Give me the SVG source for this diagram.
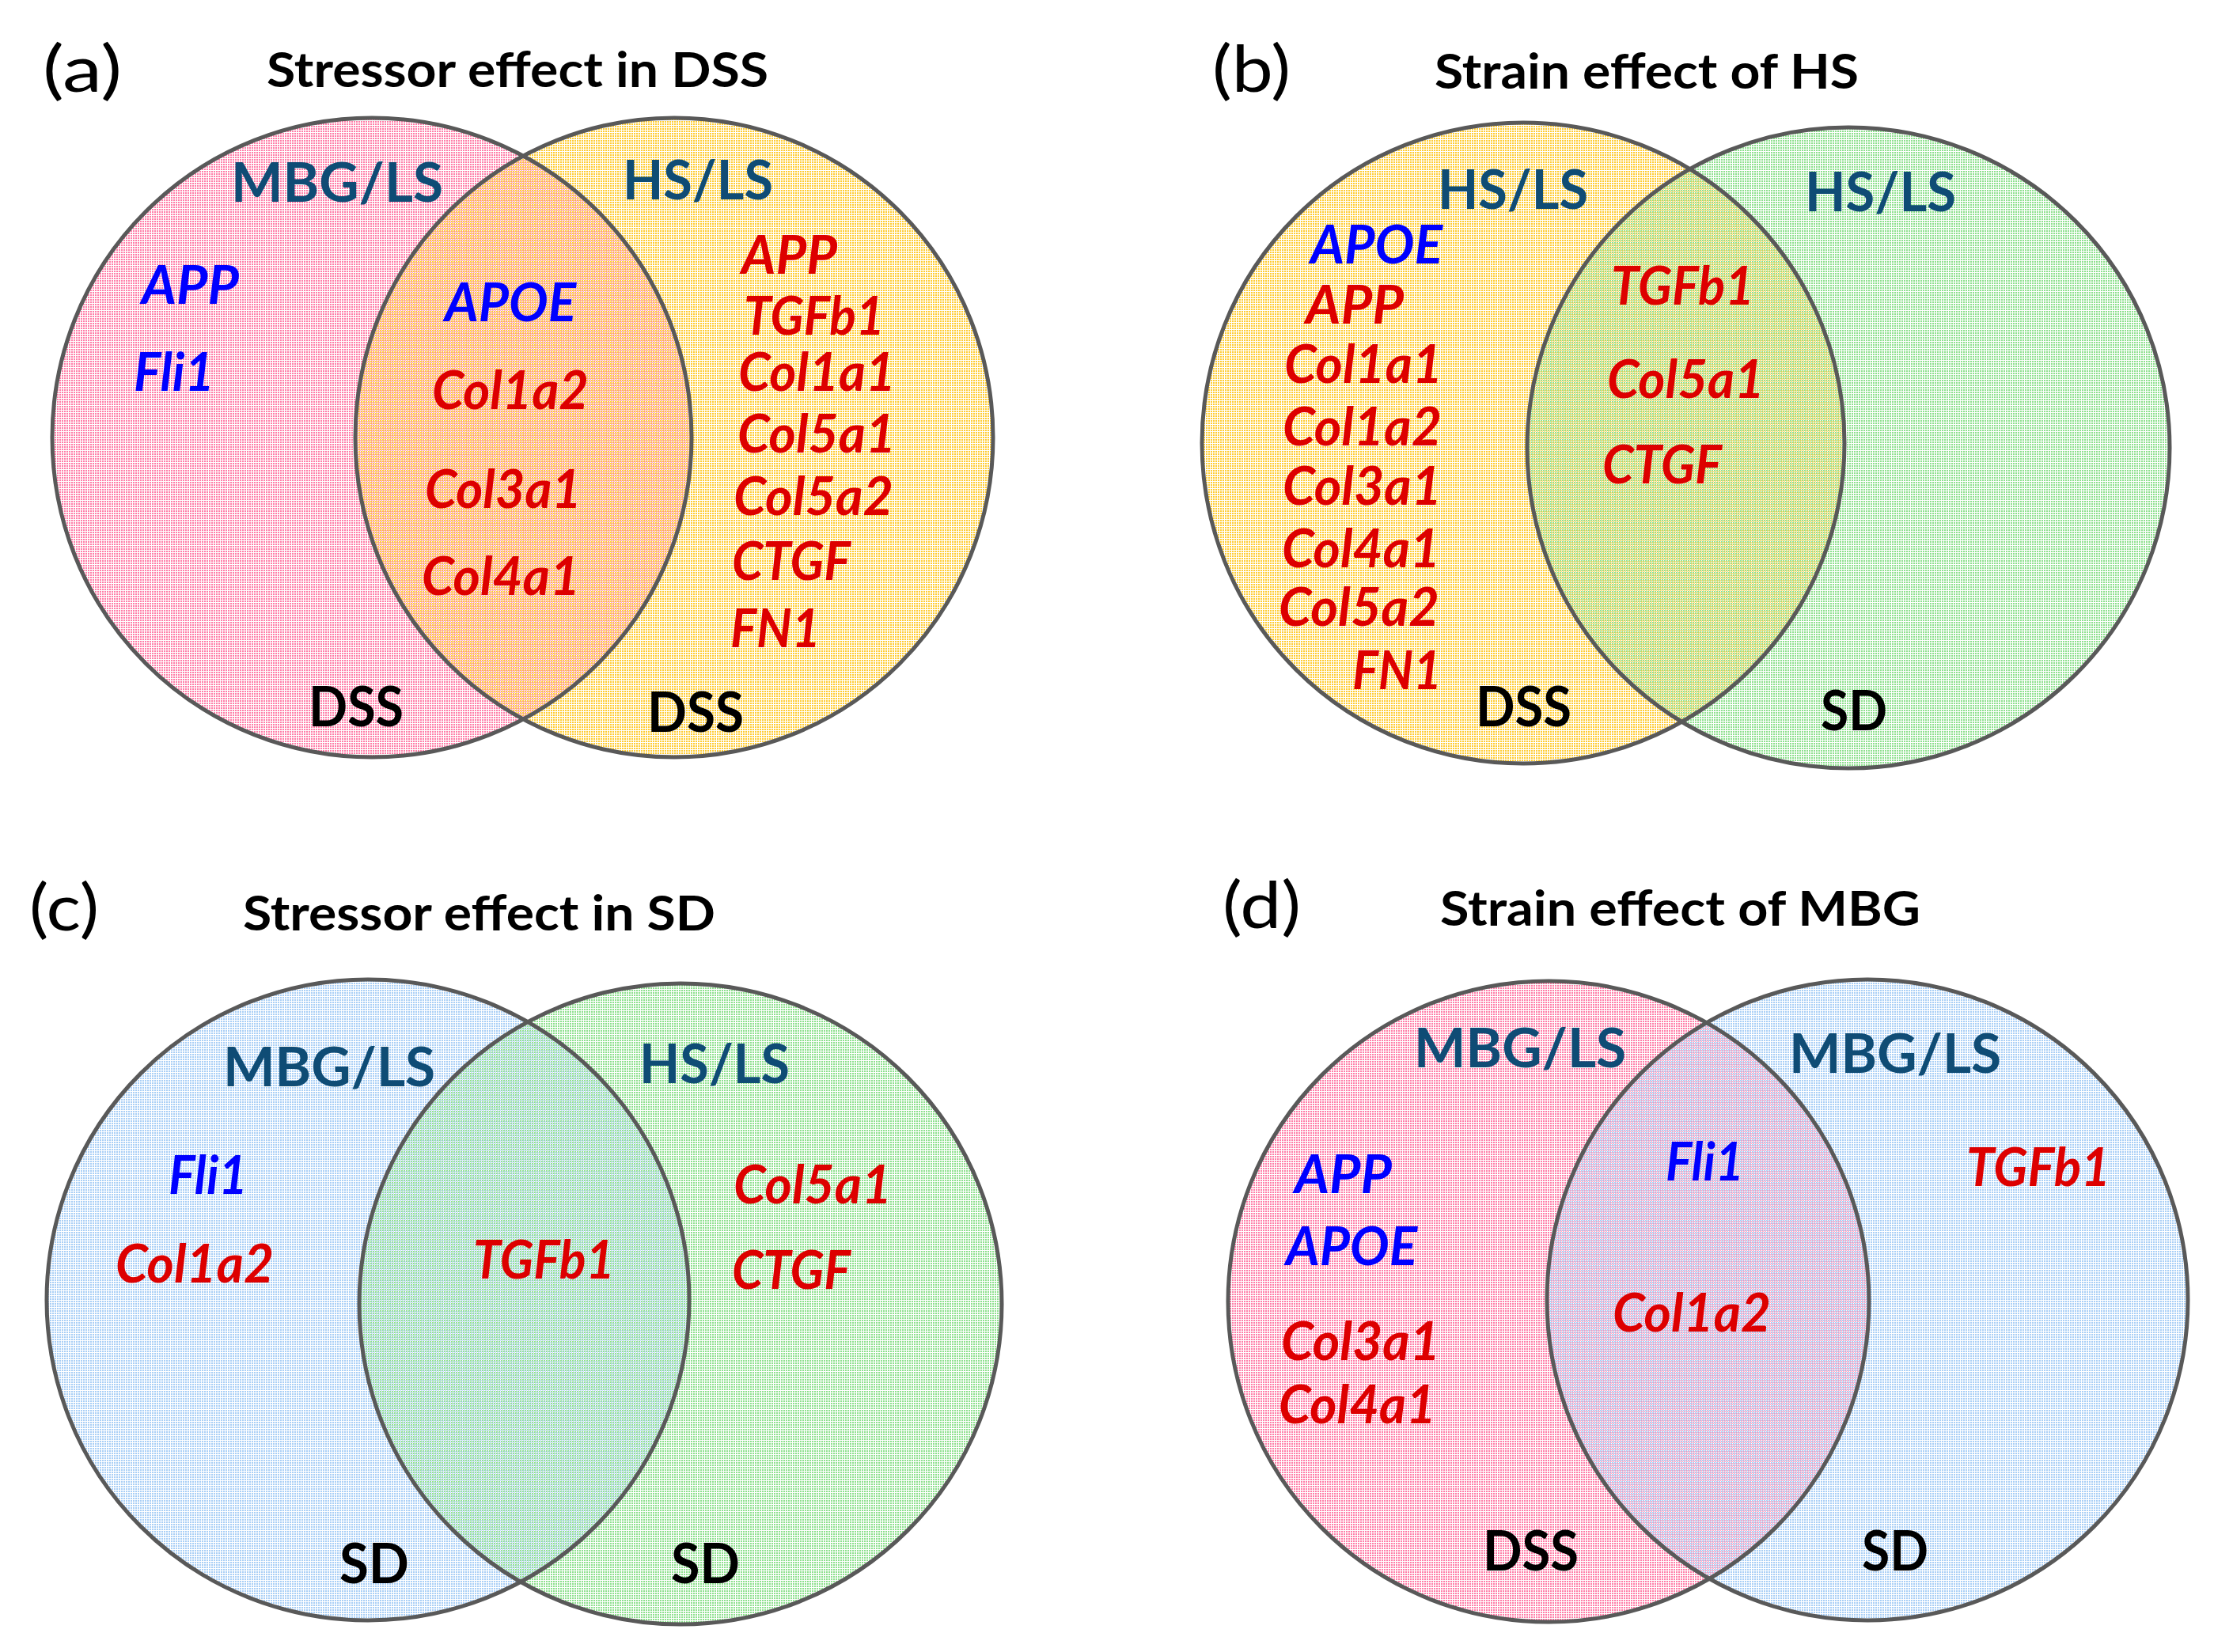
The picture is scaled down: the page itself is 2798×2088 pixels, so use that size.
<svg xmlns="http://www.w3.org/2000/svg" width="2798" height="2088" viewBox="0 0 2798 2088">
<defs>
<pattern id="pPink" patternUnits="userSpaceOnUse" width="3" height="3"><rect x="0" y="0" width="2" height="2" fill="#ff7ea8"/></pattern>
<pattern id="pYellow" patternUnits="userSpaceOnUse" width="3" height="3"><rect x="0" y="0" width="2" height="2" fill="#ffcc33"/></pattern>
<pattern id="pGreen" patternUnits="userSpaceOnUse" width="3" height="3"><rect x="0" y="0" width="2" height="2" fill="#8ee08e"/></pattern>
<pattern id="pBlue" patternUnits="userSpaceOnUse" width="3" height="3"><rect x="0" y="0" width="2" height="2" fill="#a9cff6"/></pattern>
<pattern id="oPink" patternUnits="userSpaceOnUse" x="1" y="1" width="3" height="3"><rect x="0" y="0" width="2" height="2" fill="#ff7ea8"/></pattern>
<pattern id="oYellow" patternUnits="userSpaceOnUse" x="1" y="1" width="3" height="3"><rect x="0" y="0" width="2" height="2" fill="#ffcc33"/></pattern>
<pattern id="oBlue" patternUnits="userSpaceOnUse" x="1" y="1" width="3" height="3"><rect x="0" y="0" width="2" height="2" fill="#a9cff6"/></pattern>
<clipPath id="cA"><ellipse cx="852" cy="553" rx="403" ry="404"/></clipPath>
<clipPath id="cB"><ellipse cx="2336" cy="566" rx="406" ry="405"/></clipPath>
<clipPath id="cC"><ellipse cx="860" cy="1648" rx="406" ry="405"/></clipPath>
<clipPath id="cD"><ellipse cx="2360" cy="1643" rx="405" ry="405"/></clipPath>
</defs>
<style>
text{font-family:Lato,"Open Sans","Liberation Sans",sans-serif;}
.pl{font-size:82px;fill:#000;}
.tt{font-size:61px;font-weight:bold;fill:#000;}
.grp{font-size:68px;font-weight:bold;fill:#0f4c75;}
.st{font-size:70px;font-weight:bold;fill:#000;}
.gb{font-size:66px;font-weight:bold;font-style:italic;fill:#0000ff;}
.gr{font-size:66px;font-weight:bold;font-style:italic;fill:#dd0000;}
.ring{fill:none;stroke:#595959;stroke-width:5;}
.mix{opacity:0.6;}
</style>
<rect width="2798" height="2088" fill="#ffffff"/>

<g id="panel-a">
<ellipse cx="470" cy="553" rx="404" ry="404" fill="url(#pPink)"/>
<ellipse cx="852" cy="553" rx="403" ry="404" fill="url(#pYellow)"/>
<ellipse class="mix" cx="470" cy="553" rx="404" ry="404" fill="url(#oPink)" clip-path="url(#cA)"/>
<ellipse class="ring" cx="470" cy="553" rx="404" ry="404"/>
<ellipse class="ring" cx="852" cy="553" rx="403" ry="404"/>
<text class="pl" x="54" y="116" textLength="100" lengthAdjust="spacingAndGlyphs">(a)</text>
<text class="tt" x="337" y="110" textLength="634" lengthAdjust="spacingAndGlyphs">Stressor effect in DSS</text>
<text class="grp" x="292" y="255" textLength="268" lengthAdjust="spacingAndGlyphs">MBG/LS</text>
<text class="grp" x="787" y="252" textLength="190" lengthAdjust="spacingAndGlyphs">HS/LS</text>
<text class="gb" x="179" y="384" textLength="123" lengthAdjust="spacingAndGlyphs">APP</text>
<text class="gb" x="169" y="494" textLength="102" lengthAdjust="spacingAndGlyphs">Fli1</text>
<text class="gb" x="562" y="406" textLength="166" lengthAdjust="spacingAndGlyphs">APOE</text>
<text class="gr" x="546" y="517" textLength="198" lengthAdjust="spacingAndGlyphs">Col1a2</text>
<text class="gr" x="537" y="642" textLength="198" lengthAdjust="spacingAndGlyphs">Col3a1</text>
<text class="gr" x="533" y="752" textLength="200" lengthAdjust="spacingAndGlyphs">Col4a1</text>
<text class="gr" x="937" y="346" textLength="121" lengthAdjust="spacingAndGlyphs">APP</text>
<text class="gr" x="940" y="423" textLength="178" lengthAdjust="spacingAndGlyphs">TGFb1</text>
<text class="gr" x="933" y="494" textLength="199" lengthAdjust="spacingAndGlyphs">Col1a1</text>
<text class="gr" x="932" y="572" textLength="200" lengthAdjust="spacingAndGlyphs">Col5a1</text>
<text class="gr" x="927" y="651" textLength="202" lengthAdjust="spacingAndGlyphs">Col5a2</text>
<text class="gr" x="925" y="733" textLength="150" lengthAdjust="spacingAndGlyphs">CTGF</text>
<text class="gr" x="923" y="818" textLength="114" lengthAdjust="spacingAndGlyphs">FN1</text>
<text class="st" x="390" y="918" textLength="120" lengthAdjust="spacingAndGlyphs">DSS</text>
<text class="st" x="818" y="925" textLength="122" lengthAdjust="spacingAndGlyphs">DSS</text>
</g>

<g id="panel-b">
<ellipse cx="1925" cy="560" rx="406" ry="405" fill="url(#pYellow)"/>
<ellipse cx="2336" cy="566" rx="406" ry="405" fill="url(#pGreen)"/>
<ellipse class="mix" cx="1925" cy="560" rx="406" ry="405" fill="url(#oYellow)" clip-path="url(#cB)"/>
<ellipse class="ring" cx="1925" cy="560" rx="406" ry="405"/>
<ellipse class="ring" cx="2336" cy="566" rx="406" ry="405"/>
<text class="pl" x="1532" y="116" textLength="99" lengthAdjust="spacingAndGlyphs">(b)</text>
<text class="tt" x="1813" y="112" textLength="536" lengthAdjust="spacingAndGlyphs">Strain effect of HS</text>
<text class="grp" x="1817" y="264" textLength="190" lengthAdjust="spacingAndGlyphs">HS/LS</text>
<text class="grp" x="2281" y="267" textLength="191" lengthAdjust="spacingAndGlyphs">HS/LS</text>
<text class="gb" x="1656" y="333" textLength="167" lengthAdjust="spacingAndGlyphs">APOE</text>
<text class="gr" x="1650" y="409" textLength="124" lengthAdjust="spacingAndGlyphs">APP</text>
<text class="gr" x="1623" y="484" textLength="200" lengthAdjust="spacingAndGlyphs">Col1a1</text>
<text class="gr" x="1621" y="563" textLength="201" lengthAdjust="spacingAndGlyphs">Col1a2</text>
<text class="gr" x="1621" y="638" textLength="201" lengthAdjust="spacingAndGlyphs">Col3a1</text>
<text class="gr" x="1620" y="717" textLength="200" lengthAdjust="spacingAndGlyphs">Col4a1</text>
<text class="gr" x="1616" y="791" textLength="203" lengthAdjust="spacingAndGlyphs">Col5a2</text>
<text class="gr" x="1709" y="871" textLength="113" lengthAdjust="spacingAndGlyphs">FN1</text>
<text class="st" x="1865" y="918" textLength="121" lengthAdjust="spacingAndGlyphs">DSS</text>
<text class="gr" x="2036" y="385" textLength="181" lengthAdjust="spacingAndGlyphs">TGFb1</text>
<text class="gr" x="2031" y="503" textLength="199" lengthAdjust="spacingAndGlyphs">Col5a1</text>
<text class="gr" x="2025" y="611" textLength="151" lengthAdjust="spacingAndGlyphs">CTGF</text>
<text class="st" x="2301" y="923" textLength="84" lengthAdjust="spacingAndGlyphs">SD</text>
</g>

<g id="panel-c">
<ellipse cx="465" cy="1643" rx="406" ry="405" fill="url(#pBlue)"/>
<ellipse cx="860" cy="1648" rx="406" ry="405" fill="url(#pGreen)"/>
<ellipse class="mix" cx="465" cy="1643" rx="406" ry="405" fill="url(#oBlue)" clip-path="url(#cC)"/>
<ellipse class="ring" cx="465" cy="1643" rx="406" ry="405"/>
<ellipse class="ring" cx="860" cy="1648" rx="406" ry="405"/>
<text class="pl" x="37" y="1176" textLength="88" lengthAdjust="spacingAndGlyphs">(c)</text>
<text class="tt" x="307" y="1176" textLength="597" lengthAdjust="spacingAndGlyphs">Stressor effect in SD</text>
<text class="grp" x="282" y="1373" textLength="268" lengthAdjust="spacingAndGlyphs">MBG/LS</text>
<text class="grp" x="808" y="1369" textLength="190" lengthAdjust="spacingAndGlyphs">HS/LS</text>
<text class="gb" x="213" y="1509" textLength="100" lengthAdjust="spacingAndGlyphs">Fli1</text>
<text class="gr" x="146" y="1621" textLength="200" lengthAdjust="spacingAndGlyphs">Col1a2</text>
<text class="gr" x="598" y="1616" textLength="179" lengthAdjust="spacingAndGlyphs">TGFb1</text>
<text class="gr" x="927" y="1521" textLength="200" lengthAdjust="spacingAndGlyphs">Col5a1</text>
<text class="gr" x="925" y="1629" textLength="150" lengthAdjust="spacingAndGlyphs">CTGF</text>
<text class="st" x="429" y="2001" textLength="88" lengthAdjust="spacingAndGlyphs">SD</text>
<text class="st" x="848" y="2001" textLength="87" lengthAdjust="spacingAndGlyphs">SD</text>
</g>

<g id="panel-d">
<ellipse cx="1957" cy="1645" rx="405" ry="405" fill="url(#pPink)"/>
<ellipse cx="2360" cy="1643" rx="405" ry="405" fill="url(#pBlue)"/>
<ellipse class="mix" cx="1957" cy="1645" rx="405" ry="405" fill="url(#oPink)" clip-path="url(#cD)"/>
<ellipse class="ring" cx="1957" cy="1645" rx="405" ry="405"/>
<ellipse class="ring" cx="2360" cy="1643" rx="405" ry="405"/>
<text class="pl" x="1545" y="1173" textLength="99" lengthAdjust="spacingAndGlyphs">(d)</text>
<text class="tt" x="1820" y="1170" textLength="607" lengthAdjust="spacingAndGlyphs">Strain effect of MBG</text>
<text class="grp" x="1787" y="1349" textLength="268" lengthAdjust="spacingAndGlyphs">MBG/LS</text>
<text class="grp" x="2261" y="1356" textLength="268" lengthAdjust="spacingAndGlyphs">MBG/LS</text>
<text class="gb" x="1636" y="1508" textLength="123" lengthAdjust="spacingAndGlyphs">APP</text>
<text class="gb" x="1625" y="1599" textLength="166" lengthAdjust="spacingAndGlyphs">APOE</text>
<text class="gr" x="1619" y="1719" textLength="201" lengthAdjust="spacingAndGlyphs">Col3a1</text>
<text class="gr" x="1616" y="1799" textLength="199" lengthAdjust="spacingAndGlyphs">Col4a1</text>
<text class="gb" x="2105" y="1492" textLength="99" lengthAdjust="spacingAndGlyphs">Fli1</text>
<text class="gr" x="2038" y="1683" textLength="200" lengthAdjust="spacingAndGlyphs">Col1a2</text>
<text class="gr" x="2485" y="1499" textLength="182" lengthAdjust="spacingAndGlyphs">TGFb1</text>
<text class="st" x="1874" y="1985" textLength="121" lengthAdjust="spacingAndGlyphs">DSS</text>
<text class="st" x="2353" y="1985" textLength="84" lengthAdjust="spacingAndGlyphs">SD</text>
</g>

<g id="connectors"></g>
</svg>
